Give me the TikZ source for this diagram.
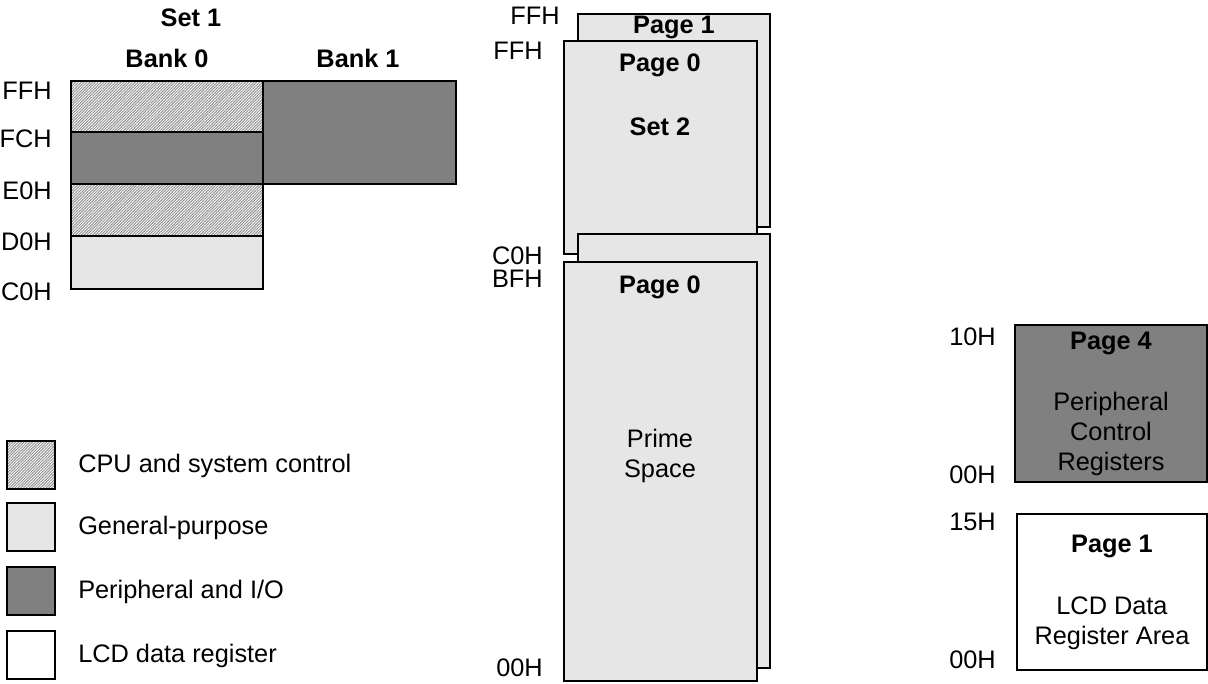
\documentclass[tikz,border=0pt]{standalone}
\usepackage{fontspec}
\setmainfont{Liberation Sans}
\usetikzlibrary{patterns.meta}
\definecolor{lgray}{HTML}{E6E6E6}
\definecolor{dgray}{HTML}{808080}
\tikzset{
  box/.style={draw=black,line width=1.1pt},
  gp/.style={box,fill=lgray},
  pio/.style={box,fill=dgray},
  cpu/.style={fill=white,pattern={Lines[angle=45,distance=1.5pt,line width=0.75pt]},pattern color=gray!85},
  lcd/.style={box,fill=white},
  lbl/.style={font=\fontsize{19}{22}\selectfont,inner sep=0pt},
  addr/.style={lbl,anchor=east},
  hd/.style={lbl,font=\fontsize{19}{22}\selectfont\bfseries},
}
\begin{document}
\begin{tikzpicture}[x=0.75pt,y=-0.75pt]
\useasboundingbox (0,0) rectangle (1208,684);
% ---- Set 1 ----
\node[hd] (set1) at (191,18) {Set 1};
\node[hd] (bank0) at (167,58) {Bank 0};
\node[hd] (bank1) at (358,58) {Bank 1};
\path[cpu] (71,81) rectangle (263,132);
\draw[box] (71,81) rectangle (263,132);
\draw[pio] (71,132) rectangle (263,184);
\path[cpu] (71,184) rectangle (263,236);
\draw[box] (71,184) rectangle (263,236);
\draw[gp] (71,236) rectangle (263,289);
\draw[pio] (263,81) rectangle (456,184);
\node[addr] (a1) at (52,91) {FFH};
\node[addr] (a2) at (52,139) {FCH};
\node[addr] (a3) at (52,191) {E0H};
\node[addr] (a4) at (52,242) {D0H};
\node[addr] (a5) at (52,292) {C0H};
% ---- Legend ----
\path[cpu] (7,441) rectangle (55,489);
\draw[box] (7,441) rectangle (55,489);
\draw[gp] (7,503) rectangle (55,551);
\draw[pio] (7,567) rectangle (55,615);
\draw[lcd] (7,631) rectangle (55,679);
\node[lbl,anchor=west] (l1) at (78,466) {CPU and system control};
\node[lbl,anchor=west] (l2) at (78,528) {General-purpose};
\node[lbl,anchor=west] (l3) at (78,592) {Peripheral and I/O};
\node[lbl,anchor=west] (l4) at (78,656) {LCD data register};
% ---- Set 2 / Prime ----
\draw[gp] (578,14) rectangle (770,227);
\draw[gp] (564,41) rectangle (757,254);
\draw[gp] (578,234) rectangle (770,668);
\draw[gp] (564,262) rectangle (757,681);
\node[hd] (p1) at (674,27) {Page 1};
\node[hd] (p0a) at (660,65) {Page 0};
\node[hd] (set2) at (660,127) {Set 2};
\node[hd] (p0b) at (660,287) {Page 0};
\node[lbl,align=center,font=\fontsize{19}{22.5}\selectfont] (prime) at (660,456) {Prime\\Space};
\node[addr] (b1) at (560,16) {FFH};
\node[addr] (b2) at (543,51) {FFH};
\node[addr] (b3) at (543,256) {C0H};
\node[addr] (b4) at (543,279) {BFH};
\node[addr] (b5) at (543,668) {00H};
% ---- Page 4 / Page 1 ----
\draw[pio] (1015,325) rectangle (1207,482);
\draw[lcd] (1017,514) rectangle (1207,670);
\node[hd] (p4) at (1111,343) {Page 4};
\node[lbl,align=center,font=\fontsize{19}{22.5}\selectfont] (pcr) at (1111,434) {Peripheral\\Control\\Registers};
\node[hd] (p1b) at (1112,546) {Page 1};
\node[lbl,align=center,font=\fontsize{19}{22.5}\selectfont] (lcdt) at (1112,623) {LCD Data\\Register Area};
\node[addr] (c1) at (996,337) {10H};
\node[addr] (c2) at (996,475) {00H};
\node[addr] (c3) at (996,522) {15H};
\node[addr] (c4) at (996,660) {00H};
\end{tikzpicture}
\end{document}
